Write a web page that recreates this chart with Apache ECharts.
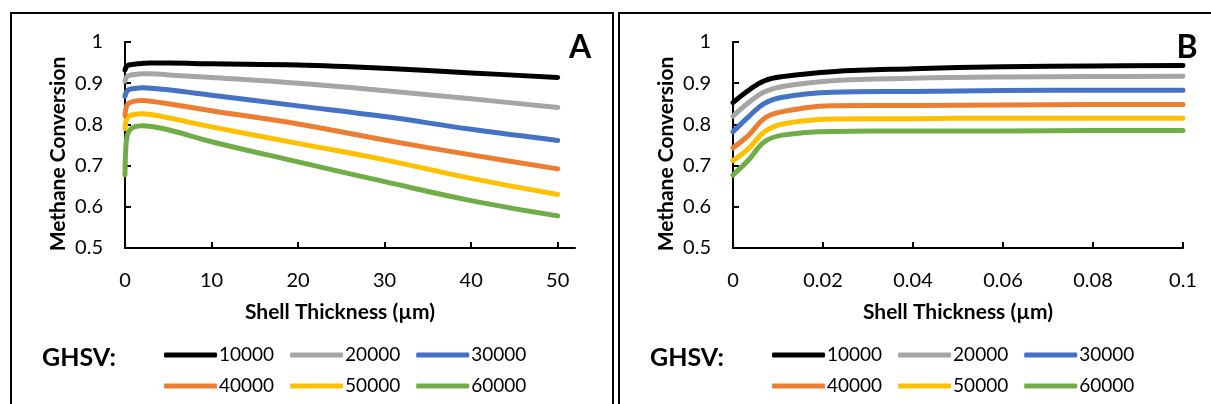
<!DOCTYPE html>
<html>
<head>
<meta charset="utf-8">
<script src="https://cdn.jsdelivr.net/npm/echarts@6/dist/echarts.min.js"></script>
<style>
  html, body { margin: 0; padding: 0; background: #fff; }
  #chart { width: 1211px; height: 404px; }
</style>
</head>
<body>
<div id="chart"></div>
<script>
// GHSV values (series names)
const ghsv = ['10000', '20000', '30000', '40000', '50000', '60000'];
const colors = ['#000000', '#A5A5A5', '#4472C4', '#ED7D31', '#FFC000', '#70AD47'];

// Panel A: shell thickness 0–50 µm
const thickA = [0, 0.15, 0.4, 1, 2, 3, 5, 10, 20, 30, 40, 50];
const convA_10000 = [0.932, 0.940, 0.944, 0.946, 0.948, 0.949, 0.949, 0.947, 0.944, 0.936, 0.925, 0.914];
const convA_20000 = [0.905, 0.914, 0.918, 0.921, 0.923, 0.923, 0.920, 0.914, 0.900, 0.882, 0.862, 0.841];
const convA_30000 = [0.868, 0.878, 0.884, 0.887, 0.889, 0.888, 0.884, 0.871, 0.845, 0.819, 0.788, 0.761];
const convA_40000 = [0.822, 0.842, 0.851, 0.856, 0.858, 0.856, 0.850, 0.833, 0.801, 0.762, 0.726, 0.692];
const convA_50000 = [0.790, 0.810, 0.819, 0.824, 0.826, 0.824, 0.816, 0.794, 0.754, 0.714, 0.669, 0.630];
const convA_60000 = [0.678, 0.760, 0.782, 0.793, 0.797, 0.795, 0.787, 0.758, 0.709, 0.661, 0.615, 0.578];

// Panel B: shell thickness 0–0.1 µm
const thickB = [0, 0.0035, 0.007, 0.011, 0.022, 0.04, 0.06, 0.08, 0.1];
const convB_10000 = [0.853, 0.883, 0.906, 0.916, 0.928, 0.935, 0.940, 0.942, 0.943];
const convB_20000 = [0.820, 0.853, 0.879, 0.892, 0.906, 0.912, 0.915, 0.916, 0.917];
const convB_30000 = [0.782, 0.819, 0.851, 0.866, 0.878, 0.880, 0.882, 0.883, 0.883];
const convB_40000 = [0.743, 0.774, 0.815, 0.831, 0.845, 0.846, 0.847, 0.848, 0.848];
const convB_50000 = [0.712, 0.742, 0.782, 0.801, 0.813, 0.814, 0.815, 0.815, 0.815];
const convB_60000 = [0.677, 0.714, 0.758, 0.774, 0.783, 0.784, 0.784, 0.785, 0.785];

// Axis ticks
const ticksA = [0, 10, 20, 30, 40, 50];
const ticksB = [0, 0.02, 0.04, 0.06, 0.08, 0.1];
const yTicks = [0.5, 0.6, 0.7, 0.8, 0.9, 1];

const convA = [convA_10000, convA_20000, convA_30000, convA_40000, convA_50000, convA_60000];
const convB = [convB_10000, convB_20000, convB_30000, convB_40000, convB_50000, convB_60000];

const FONT = 'Lato, "Open Sans", sans-serif';

const pairs = (xs, ys) => xs.map((x, i) => [x, ys[i]]);

const series = [];
[[thickA, convA, 0], [thickB, convB, 1]].forEach(([xs, table, idx]) => {
  ghsv.forEach((name, i) => {
    series.push({
      name, type: 'line', xAxisIndex: idx, yAxisIndex: idx,
      data: pairs(xs, table[i]),
      smooth: 0.4, symbol: 'none',
      lineStyle: { color: colors[i], width: 5, cap: 'round', join: 'round' },
      itemStyle: { color: colors[i] },
      z: 10 - i
    });
  });
});

const axisLine = { show: true, lineStyle: { color: '#000', width: 2 } };
const labelStyle = { color: '#000', fontFamily: FONT, fontSize: 20 };

function xAxis(gridIndex, max, ticks, fmt) {
  return {
    type: 'value', gridIndex, min: 0, max,
    axisLine, splitLine: { show: false },
    axisTick: { show: true, inside: true, length: 6, lineStyle: { color: '#000', width: 2 }, customValues: ticks },
    axisLabel: Object.assign({ margin: 23, customValues: ticks, formatter: fmt }, labelStyle)
  };
}
function yAxis(gridIndex) {
  return {
    type: 'value', gridIndex, min: 0.5, max: 1, interval: 0.1,
    axisLine, splitLine: { show: false },
    axisTick: { show: true, inside: true, length: 6, lineStyle: { color: '#000', width: 2 }, customValues: yTicks },
    axisLabel: Object.assign({ margin: 22, customValues: yTicks, formatter: v => String(+v.toFixed(1)) }, labelStyle)
  };
}

function legendRow(names, left, top) {
  return {
    data: names, left, top, orient: 'horizontal',
    icon: 'roundRect', itemWidth: 53, itemHeight: 5, itemGap: 16,
    selectedMode: false,
    textStyle: { color: '#000', fontFamily: FONT, fontSize: 19, padding: [0, 0, 0, -3], lineHeight: 20 }
  };
}

function text(x, y, str, size, opts) {
  return Object.assign({
    type: 'text', x, y,
    style: { text: str, fill: '#000', font: 'bold ' + size + 'px ' + FONT, align: 'center', verticalAlign: 'middle' }
  }, opts || {});
}

const option = {
  animation: false,
  backgroundColor: '#fff',
  grid: [
    { left: 125, top: 42, width: 450, height: 206 },
    { left: 733, top: 42, width: 450, height: 206 }
  ],
  xAxis: [
    xAxis(0, 52, ticksA, v => String(v)),
    xAxis(1, 0.1, ticksB, v => String(+v.toFixed(2)))
  ],
  yAxis: [yAxis(0), yAxis(1)],
  legend: [
    legendRow(ghsv.slice(0, 3), 159, 340),
    legendRow(ghsv.slice(3), 159, 371),
    legendRow(ghsv.slice(0, 3), 767, 340),
    legendRow(ghsv.slice(3), 767, 371)
  ],
  series,
  graphic: [
    // panel frames
    { type: 'rect', shape: { x: 11, y: 13, width: 602, height: 420 }, style: { fill: 'none', stroke: '#000', lineWidth: 2 }, silent: true },
    { type: 'rect', shape: { x: 619, y: 13, width: 620, height: 420 }, style: { fill: 'none', stroke: '#000', lineWidth: 2 }, silent: true },
    // axis titles
    text(58, 154, 'Methane Conversion', 21, { rotation: Math.PI / 2 }),
    text(666, 154, 'Methane Conversion', 21, { rotation: Math.PI / 2 }),
    text(340, 312, 'Shell Thickness (µm)', 21),
    text(958, 312, 'Shell Thickness (µm)', 21),
    // legend captions
    text(79, 358, 'GHSV:', 25),
    text(687, 358, 'GHSV:', 25),
    // panel letters
    text(580, 48, 'A', 32),
    text(1187, 48, 'B', 32)
  ]
};

const chart = echarts.init(document.getElementById('chart'), null, { renderer: 'canvas' });
chart.setOption(option);
</script>
</body>
</html>
